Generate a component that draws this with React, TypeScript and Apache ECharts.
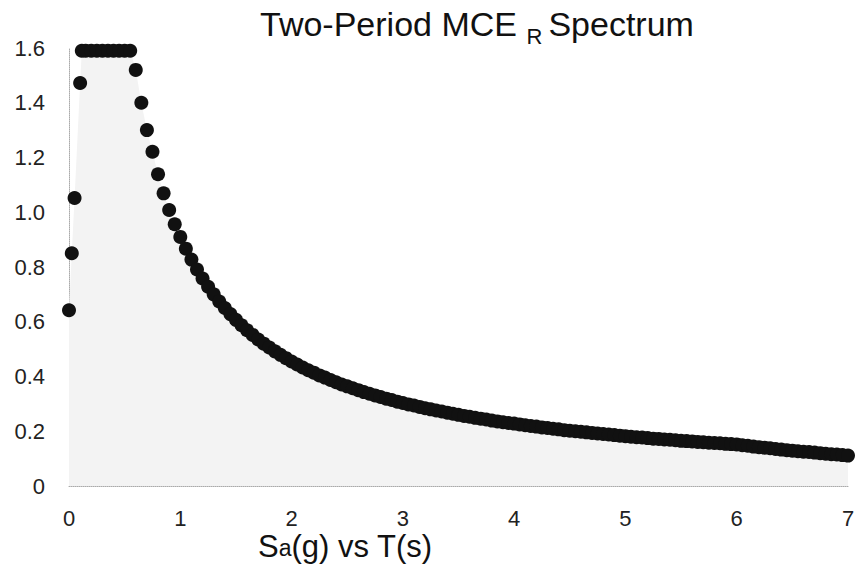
import React, { useEffect, useRef } from "react";
import * as echarts from "echarts";

// Period T (s) vs spectral acceleration Sa (g)
const risingBranch: [number, number][] = [
  [0.0, 0.642], [0.025, 0.85], [0.05, 1.052], [0.1, 1.472],
];
const plateauBranch: [number, number][] = [
  [0.115, 1.59], [0.15, 1.59], [0.2, 1.59], [0.25, 1.59], [0.3, 1.59],
  [0.35, 1.59], [0.4, 1.59], [0.45, 1.59], [0.5, 1.59], [0.55, 1.59],
];
const velocityBranch: [number, number][] = [
  [0.6, 1.52], [0.65, 1.4], [0.7, 1.3], [0.75, 1.221], [0.8, 1.139],
  [0.85, 1.069], [0.9, 1.008], [0.95, 0.956],
  [1.0, 0.91], [1.05, 0.867], [1.1, 0.827], [1.15, 0.791], [1.2, 0.758],
  [1.25, 0.728], [1.3, 0.7], [1.35, 0.674], [1.4, 0.65], [1.45, 0.628],
  [1.5, 0.607], [1.55, 0.587], [1.6, 0.569], [1.65, 0.552], [1.7, 0.535],
  [1.75, 0.52], [1.8, 0.506], [1.85, 0.492], [1.9, 0.479], [1.95, 0.467],
  [2.0, 0.455], [2.05, 0.444], [2.1, 0.433], [2.15, 0.423], [2.2, 0.414],
  [2.25, 0.404], [2.3, 0.396], [2.35, 0.387], [2.4, 0.379], [2.45, 0.371],
  [2.5, 0.364], [2.55, 0.357], [2.6, 0.35], [2.65, 0.343], [2.7, 0.337],
  [2.75, 0.331], [2.8, 0.325], [2.85, 0.319], [2.9, 0.314], [2.95, 0.308],
  [3.0, 0.303], [3.05, 0.298], [3.1, 0.294], [3.15, 0.289], [3.2, 0.284],
  [3.25, 0.28], [3.3, 0.276], [3.35, 0.272], [3.4, 0.268], [3.45, 0.264],
  [3.5, 0.26], [3.55, 0.256], [3.6, 0.253], [3.65, 0.249], [3.7, 0.246],
  [3.75, 0.243], [3.8, 0.239], [3.85, 0.236], [3.9, 0.233], [3.95, 0.23],
  [4.0, 0.228], [4.05, 0.225], [4.1, 0.222], [4.15, 0.219], [4.2, 0.217],
  [4.25, 0.214], [4.3, 0.212], [4.35, 0.209], [4.4, 0.207], [4.45, 0.204],
  [4.5, 0.202], [4.55, 0.2], [4.6, 0.198], [4.65, 0.196], [4.7, 0.194],
  [4.75, 0.192], [4.8, 0.19], [4.85, 0.188], [4.9, 0.186], [4.95, 0.184],
  [5.0, 0.182], [5.05, 0.18], [5.1, 0.178], [5.15, 0.177], [5.2, 0.175],
  [5.25, 0.173], [5.3, 0.172], [5.35, 0.17], [5.4, 0.169], [5.45, 0.167],
  [5.5, 0.165], [5.55, 0.164], [5.6, 0.163], [5.65, 0.161], [5.7, 0.16],
  [5.75, 0.158], [5.8, 0.157], [5.85, 0.156], [5.9, 0.154], [5.95, 0.153],
  [6.0, 0.152],
];
const longPeriodBranch: [number, number][] = [
  [6.05, 0.149], [6.1, 0.147], [6.15, 0.144], [6.2, 0.142], [6.25, 0.14],
  [6.3, 0.138], [6.35, 0.135], [6.4, 0.133], [6.45, 0.131], [6.5, 0.129],
  [6.55, 0.127], [6.6, 0.125], [6.65, 0.124], [6.7, 0.122], [6.75, 0.12],
  [6.8, 0.118], [6.85, 0.116], [6.9, 0.115], [6.95, 0.113], [7.0, 0.111],
];

const yTickLabels = ["0", "0.2", "0.4", "0.6", "0.8", "1.0", "1.2", "1.4", "1.6"];
const xTickLabels = ["0", "1", "2", "3", "4", "5", "6", "7"];

const titleMain = "Two-Period MCE";
const titleSub = "R";
const titleEnd = "Spectrum";
const axisMain = "S";
const axisSub = "a";
const axisEnd = "(g) vs T(s)";

const FONT = "'Liberation Sans', Arial, sans-serif";

export default function App() {
  const ref = useRef<HTMLDivElement>(null);

  useEffect(() => {
    document.body.style.margin = "0";
    if (!ref.current) return;
    const chart = echarts.init(ref.current, null, { renderer: "svg" });
    const allPoints = [
      ...risingBranch,
      ...plateauBranch,
      ...velocityBranch,
      ...longPeriodBranch,
    ];
    chart.setOption({
      animation: false,
      backgroundColor: "#ffffff",
      title: [
        {
          left: 260,
          top: 7,
          padding: 0,
          text: `{m|${titleMain} }{s|${titleSub} }{m|${titleEnd}}`,
          textStyle: {
            rich: {
              m: {
                fontSize: 34,
                fontFamily: FONT,
                fontWeight: "normal",
                color: "#111",
                lineHeight: 40,
                verticalAlign: "top",
              },
              s: {
                fontSize: 22,
                fontFamily: FONT,
                fontWeight: "normal",
                color: "#111",
                lineHeight: 24,
                verticalAlign: "bottom",
              },
            },
          },
        },
        {
          left: 258,
          top: 531,
          padding: 0,
          text: `{m|${axisMain}}{s|${axisSub}}{m|${axisEnd}}`,
          textStyle: {
            rich: {
              m: {
                fontSize: 31,
                fontFamily: FONT,
                fontWeight: "normal",
                color: "#111",
                lineHeight: 28,
                verticalAlign: "top",
              },
              s: {
                fontSize: 23,
                fontFamily: FONT,
                fontWeight: "normal",
                color: "#111",
                lineHeight: 14,
                verticalAlign: "bottom",
              },
            },
          },
        },
      ],
      grid: { left: 69, right: 12, top: 48, bottom: 78, containLabel: false },
      xAxis: {
        type: "value",
        min: 0,
        max: 7,
        interval: 1,
        axisLine: {
          show: true,
          lineStyle: { color: "#aaa", type: "dotted", width: 1 },
        },
        axisTick: { show: false },
        splitLine: { show: false },
        axisLabel: {
          margin: 22,
          fontSize: 22,
          lineHeight: 20,
          fontFamily: FONT,
          color: "#222",
          formatter: (v: number) => xTickLabels[Math.round(v)] ?? "",
        },
      },
      yAxis: {
        type: "value",
        min: 0,
        max: 1.6,
        interval: 0.2,
        axisLine: {
          show: true,
          lineStyle: { color: "#aaa", type: "dotted", width: 1 },
        },
        axisTick: { show: false },
        splitLine: { show: false },
        axisLabel: {
          margin: 24,
          fontSize: 22,
          fontFamily: FONT,
          color: "#222",
          formatter: (v: number) => yTickLabels[Math.round(v / 0.2)] ?? "",
        },
      },
      series: [
        {
          type: "line",
          data: allPoints,
          symbol: "none",
          silent: true,
          lineStyle: { width: 0 },
          areaStyle: { color: "#f3f3f3", opacity: 1 },
          z: 1,
        },
        {
          type: "scatter",
          data: allPoints,
          symbolSize: 14,
          itemStyle: { color: "#111111", opacity: 1 },
          z: 2,
        },
      ],
    });
    return () => chart.dispose();
  }, []);

  return <div ref={ref} style={{ width: 860, height: 564 }} />;
}
